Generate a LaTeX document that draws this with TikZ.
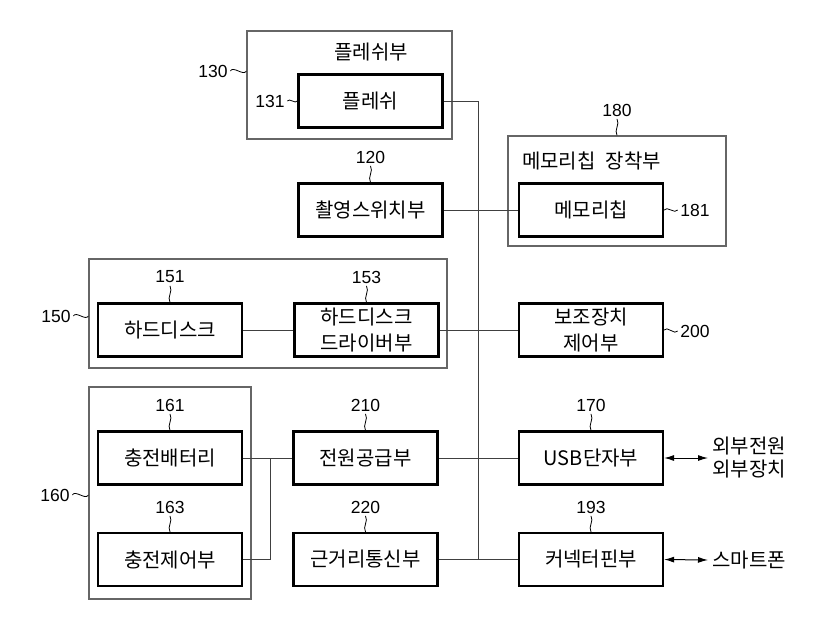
\documentclass[tikz,border=0pt]{standalone}
\usepackage{fontspec}
\setmainfont{Noto Sans CJK KR}
\newfontfamily\latn{Liberation Sans}
\usetikzlibrary{arrows.meta}
\begin{document}
\begin{tikzpicture}[x=1pt,y=-1pt,
  box/.style={draw=black, line width=2.2pt, minimum width=144pt, minimum height=53pt, inner sep=0pt,
    font=\fontsize{20}{25.5}\selectfont, align=center},
  group/.style={draw=black!60, line width=1.2pt, inner sep=0pt},
  ttl/.style={font=\fontsize{20}{25}\selectfont, inner sep=0pt},
  num/.style={font=\latn\fontsize{17.5}{20}\selectfont, inner sep=2.5pt},
  leader/.style={draw=black, line width=0.8pt},
  wire/.style={draw=black!75, line width=1pt},
  ext/.style={font=\fontsize{20}{23}\selectfont, align=center, inner sep=4pt},
  dbl/.style={draw=black, line width=1pt, {Latex[length=10pt,width=6pt]}-{Latex[length=10pt,width=6pt]}}
]
\useasboundingbox (0,0) rectangle (835,627);

% group boxes
\node[group, minimum width=205pt, minimum height=108pt] (g130) at (349.5,85) {};
\node[group, minimum width=218pt, minimum height=110pt] (g180) at (617,191) {};
\node[group, minimum width=358pt, minimum height=109pt] (g150) at (268,313.5) {};
\node[group, minimum width=162pt, minimum height=212pt] (g160) at (170,493) {};

% titles
\node[ttl] (t130) at (371,52) {플레쉬부};
\node[ttl] (t180) at (591.5,161) {메모리칩\hspace{0.5em}장착부};

% boxes
\node[box] (n131) at (370.5,101) {플레쉬};
\node[box] (n120) at (370.5,210) {촬영스위치부};
\node[box] (n181) at (591,210) {메모리칩};
\node[box] (n151) at (170,330) {하드디스크};
\node[box] (n153) at (366.5,330) {하드디스크\\드라이버부};
\node[box] (n200) at (591,330) {보조장치\\제어부};
\node[box] (n161) at (170,458) {충전배터리};
\node[box] (n163) at (170,559.5) {충전제어부};
\node[box] (n210) at (365.5,458) {전원공급부};
\node[box] (n220) at (365.5,559.5) {근거리통신부};
\node[box] (n170) at (591,458) {USB단자부};
\node[box] (n193) at (591,559.5) {커넥터핀부};

% external texts
\node[ext] (x170) at (749,458) {외부전원\\외부장치};
\node[ext] (x193) at (749,560) {스마트폰};

% number labels
\node[num] (l130) at (213,71) {130};
\node[num] (l131) at (270,101) {131};
\node[num] (l180) at (617,110) {180};
\node[num] (l181) at (695,210) {181};
\node[num] (l120) at (370.5,157) {120};
\node[num] (l150) at (56,316) {150};
\node[num] (l151) at (170,277) {151};
\node[num] (l153) at (366.5,277) {153};
\node[num] (l200) at (695,331) {200};
\node[num] (l160) at (55,495) {160};
\node[num] (l161) at (170,405) {161};
\node[num] (l163) at (170,507) {163};
\node[num] (l210) at (365.5,405) {210};
\node[num] (l220) at (365.5,507) {220};
\node[num] (l170) at (591,405) {170};
\node[num] (l193) at (591,507) {193};

% leaders (tildes)
\draw[leader] (l130.east) to[out=60,in=-120] (l130 -| g130.west);
\draw[leader] (l131.east) to[out=60,in=-120] (n131.west);
\draw[leader] (l150.east) to[out=60,in=-120] (l150 -| g150.west);
\draw[leader] (l160.east) to[out=60,in=-120] (l160 -| g160.west);
\draw[leader] (n181.east) to[out=60,in=-120] (l181.west);
\draw[leader] (n200.east) to[out=60,in=-120] (l200.west);
\draw[leader] (l180.south) to[out=-60,in=120] (l180 |- g180.north);
\draw[leader] (l120.south) to[out=-60,in=120] (n120.north);
\draw[leader] (l151.south) to[out=-60,in=120] (n151.north);
\draw[leader] (l153.south) to[out=-60,in=120] (n153.north);
\draw[leader] (l161.south) to[out=-60,in=120] (n161.north);
\draw[leader] (l163.south) to[out=-60,in=120] (n163.north);
\draw[leader] (l210.south) to[out=-60,in=120] (n210.north);
\draw[leader] (l220.south) to[out=-60,in=120] (n220.north);
\draw[leader] (l170.south) to[out=-60,in=120] (n170.north);
\draw[leader] (l193.south) to[out=-60,in=120] (n193.north);

% bus and wires
\coordinate (bt) at (478,101);
\coordinate (bb) at (478,559.5);
\coordinate (jn) at (270,458);
\draw[wire] (n131.east) -- (bt) -- (bb) -- (n193.west);
\draw[wire] (n120.east) -- (n181.west);
\draw[wire] (n151.east) -- (n153.west);
\draw[wire] (n153.east) -- (n200.west);
\draw[wire] (n161.east) -- (n210.west);
\draw[wire] (n163.east) -| (jn);
\draw[wire] (n210.east) -- (n170.west);
\draw[wire] (n220.east) -- (n193.west);

% external arrows
\draw[dbl] (n170.east) -- (x170.west);
\draw[dbl] (n193.east) -- (x193.west);
\end{tikzpicture}
\end{document}
